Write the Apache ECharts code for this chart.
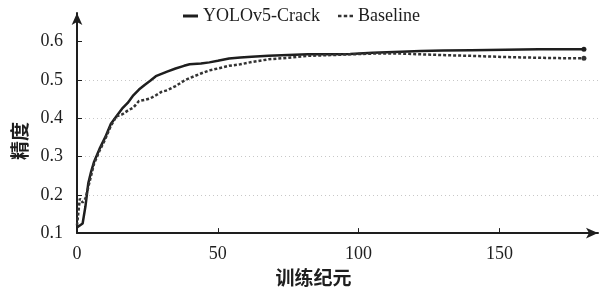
<!DOCTYPE html>
<html>
<head>
<meta charset="utf-8">
<script src="https://cdn.jsdelivr.net/npm/echarts@6/dist/echarts.min.js"></script>
<style>
html,body{margin:0;padding:0;background:#fff;}
#main{width:603px;height:292px;}
</style>
</head>
<body>
<div id="main"></div>
<script>
// 训练纪元 (epochs) sampled along the curves
var epochs = [0,1,2,3,4,5,6,8,10,12,14,16,18,20,22,24,26,28,30,32,35,38,40,44,47,50,54,58,62,68,75,82,90,97,105,115,122,130,140,152,164,172,180];
// YOLOv5-Crack 精度
var yoloCrack = [0.115,0.12,0.125,0.17,0.23,0.26,0.285,0.32,0.35,0.385,0.405,0.425,0.44,0.46,0.475,0.487,0.498,0.51,0.516,0.522,0.53,0.537,0.541,0.543,0.546,0.55,0.556,0.559,0.561,0.563,0.565,0.567,0.567,0.568,0.571,0.574,0.576,0.577,0.578,0.579,0.58,0.58,0.58];
// Baseline 精度
var baseline = [0.12,0.19,0.18,0.19,0.22,0.25,0.28,0.315,0.345,0.38,0.405,0.41,0.42,0.428,0.445,0.448,0.452,0.46,0.469,0.473,0.484,0.498,0.505,0.517,0.525,0.53,0.537,0.541,0.547,0.554,0.558,0.563,0.565,0.567,0.569,0.569,0.567,0.565,0.563,0.56,0.558,0.557,0.557];
var yTicks = [0.1,0.2,0.3,0.4,0.5,0.6];
var xTicks = [0,50,100,150];

var serif = 'Liberation Serif';
var ink = '#1e1e1e';

function pairs(ys){
    return epochs.map(function(e,i){ return [e, ys[i]]; });
}
// 末端小圆点
function lastDot(ys, color){
    var n = epochs.length - 1;
    return {
        symbol: 'circle',
        symbolSize: 5,
        itemStyle: { color: color },
        label: { show: false },
        data: [{ coord: [epochs[n], ys[n]] }]
    };
}

var chart = echarts.init(document.getElementById('main'));
var option = {
    animation: false,
    grid: { left: 77, right: 5, top: 13, bottom: 54, containLabel: false },
    legend: {
        top: 2,
        left: 'center',
        itemWidth: 15,
        itemHeight: 3,
        itemGap: 18,
        textStyle: { fontFamily: serif, fontSize: 18, color: ink },
        data: [
            { name: 'YOLOv5-Crack', icon: 'rect' },
            { name: 'Baseline', icon: 'path://M0,0h3v2h-3z M5,0h3v2h-3z M10,0h3v2h-3z' }
        ]
    },
    xAxis: {
        type: 'value',
        min: 0,
        max: 185,
        interval: 50,
        name: '训练纪元',
        nameLocation: 'middle',
        nameGap: 29,
        nameTextStyle: { fontFamily: 'Noto Sans CJK SC', fontWeight: 'bold', fontSize: 19, color: ink, padding: [0, 48, 0, 0] },
        axisLine: { show: true, lineStyle: { color: ink, width: 2 }, symbol: ['none', 'arrow'], symbolSize: [8, 12] },
        axisTick: { show: true, inside: true, length: 5, customValues: [50, 100, 150], lineStyle: { color: ink, width: 1 } },
        axisLabel: { customValues: xTicks, margin: 12, fontFamily: serif, fontSize: 18, color: ink },
        splitLine: { show: false }
    },
    yAxis: {
        type: 'value',
        min: 0.1,
        max: 0.675,
        interval: 0.1,
        name: '精度',
        nameLocation: 'middle',
        nameRotate: 90,
        nameGap: 47,
        nameTextStyle: { fontFamily: 'Noto Sans CJK SC', fontWeight: 'bold', fontSize: 19, color: ink, padding: [0, 36, 0, 0] },
        axisLine: { show: true, lineStyle: { color: ink, width: 2 }, symbol: ['none', 'arrow'], symbolSize: [8, 12] },
        axisTick: { show: true, inside: true, length: 5, customValues: yTicks, lineStyle: { color: ink, width: 1 } },
        axisLabel: {
            customValues: yTicks, margin: 14, fontFamily: serif, fontSize: 18, color: ink,
            formatter: function(v){ return v.toFixed(1); }
        },
        splitLine: { show: true, showMinLine: false, showMaxLine: false, lineStyle: { color: '#c8c8c8', width: 1, type: [1, 3] } }
    },
    series: [
        {
            name: 'YOLOv5-Crack',
            type: 'line',
            data: pairs(yoloCrack),
            symbol: 'none',
            itemStyle: { color: ink },
            lineStyle: { color: ink, width: 2.5 },
            markPoint: lastDot(yoloCrack, ink)
        },
        {
            name: 'Baseline',
            type: 'line',
            data: pairs(baseline),
            symbol: 'none',
            itemStyle: { color: '#333' },
            lineStyle: { color: '#333', width: 2.5, type: [3, 2] },
            markPoint: lastDot(baseline, '#333')
        }
    ]
};
chart.setOption(option);
</script>
</body>
</html>
